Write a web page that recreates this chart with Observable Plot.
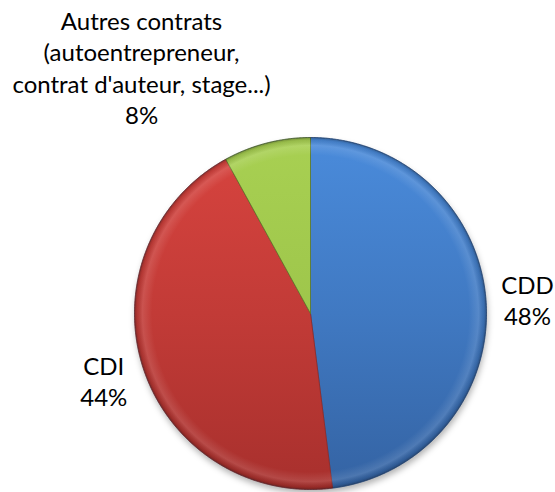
<!DOCTYPE html>
<html>
<head>
<meta charset="utf-8">
<script src="https://cdn.jsdelivr.net/npm/d3@7"></script>
<script src="https://cdn.jsdelivr.net/npm/@observablehq/plot@0.6"></script>
<style>
  html, body { margin: 0; padding: 0; background: #fff; }
  #chart { width: 555px; height: 492px; }
</style>
</head>
<body>
<div id="chart"></div>
<script>
// ---- data ----
const categories = ["CDD", "CDI", "Autres contrats"];
const labels = ["CDD", "CDI", "Autres contrats\n(autoentrepreneur,\ncontrat d'auteur, stage...)"];
const values = [48, 44, 8];

// ---- styling (kept separate from data) ----
const topColors = ["#4a8bdb", "#d8443f", "#a8d052"];
const bottomColors = ["#3463a3", "#a8302d", "#92b942"];
const edgeColors = ["#2c568f", "#8e2a27", "#5e7a28"];
const W = 555, H = 492;
const CX = 310, CY = 313, R = 176;   // pie placement in pixels

// ---- pie geometry from data ----
const total = d3.sum(values);
const arcs = d3.pie().sort(null).value(d => d)(values); // angle 0 = 12 o'clock, clockwise
const rows = arcs.map((a, i) => {
  const pts = [{x: 0, y: 0}];
  const n = Math.max(2, Math.ceil((a.endAngle - a.startAngle) / (Math.PI / 360)));
  for (let k = 0; k <= n; k++) {
    const t = a.startAngle + (a.endAngle - a.startAngle) * k / n;
    pts.push({x: Math.sin(t), y: Math.cos(t)});
  }
  pts.push({x: 0, y: 0});
  return {i, name: categories[i], pts, mid: (a.startAngle + a.endAngle) / 2};
});
const circle = d3.range(0, 721).map(k => ({x: Math.sin(k * Math.PI / 360), y: Math.cos(k * Math.PI / 360)}));

// label positions: polar for CDD / CDI, Autres placed above-left as in the original
const labelData = rows.map(r => {
  let x, y;
  if (r.i === 2) { x = -0.96; y = 1.40; }
  else { x = 1.235 * Math.sin(r.mid); y = 1.235 * Math.cos(r.mid); }
  const pct = Math.round(values[r.i] / total * 100) + "%";
  return {x, y, text: labels[r.i] + "\n" + pct};
});

const marks = [
  Plot.line(circle, {x: "x", y: "y", fill: "#000000", fillOpacity: 0.3, stroke: "none", ariaDescription: "shadow"}),
  ...rows.map(r => Plot.line(r.pts, {x: "x", y: "y", fill: topColors[r.i], stroke: edgeColors[r.i], strokeWidth: 0.8, ariaDescription: "slice" + r.i})),
  Plot.line(circle, {x: "x", y: "y", fill: "#ffffff", fillOpacity: 0, stroke: "#2a3f5a", strokeOpacity: 0.35, strokeWidth: 0.8, ariaDescription: "bevel"}),
  Plot.text(labelData, {x: "x", y: "y", text: "text", lineAnchor: "middle", textAnchor: "middle",
    fontFamily: "Lato", fontSize: 24, lineHeight: 1.3, fill: "#000000"})
];

const svg = Plot.plot({
  width: W, height: H,
  marginTop: 0, marginRight: 0, marginBottom: 0, marginLeft: 0,
  x: {domain: [-1, 1], range: [CX - R, CX + R], axis: null},
  y: {domain: [-1, 1], range: [CY + R, CY - R], axis: null},
  marks
});

// gradients, bevel & shadow definitions
const ns = "http://www.w3.org/2000/svg";
function el(name, attrs, parent) {
  const e = document.createElementNS(ns, name);
  for (const k in attrs) e.setAttribute(k, attrs[k]);
  if (parent) parent.appendChild(e);
  return e;
}
const defs = el("defs", {});
topColors.forEach((c, i) => {
  const g = el("linearGradient", {id: "grad" + i, gradientUnits: "userSpaceOnUse", x1: 0, y1: CY - R, x2: 0, y2: CY + R}, defs);
  el("stop", {offset: 0, "stop-color": c}, g);
  el("stop", {offset: 0.5, "stop-color": d3.interpolateRgb(c, bottomColors[i])(0.45)}, g);
  el("stop", {offset: 1, "stop-color": bottomColors[i]}, g);
});
const bev = el("radialGradient", {id: "bevel", gradientUnits: "userSpaceOnUse", cx: CX, cy: CY, r: R}, defs);
[[0, "#ffffff", 0], [0.9, "#ffffff", 0], [0.955, "#ffffff", 0.12], [0.985, "#000000", 0.10], [1, "#000000", 0.30]]
  .forEach(([o, c, a]) => el("stop", {offset: o, "stop-color": c, "stop-opacity": a}, bev));
const flt = el("filter", {id: "blur", x: "-20%", y: "-20%", width: "140%", height: "140%"}, defs);
el("feGaussianBlur", {stdDeviation: 3}, flt);
svg.insertBefore(defs, svg.firstChild);

rows.forEach(r => {
  const g = svg.querySelector(`g[aria-description="slice${r.i}"]`);
  if (g) g.setAttribute("fill", `url(#grad${r.i})`);
});
const bg = svg.querySelector('g[aria-description="bevel"]');
if (bg) { bg.setAttribute("fill", "url(#bevel)"); bg.setAttribute("fill-opacity", "1"); }
const sh = svg.querySelector('g[aria-description="shadow"]');
if (sh) { sh.setAttribute("filter", "url(#blur)"); sh.setAttribute("transform", "translate(1.5,4.5)"); }

document.getElementById("chart").appendChild(svg);
</script>
</body>
</html>
